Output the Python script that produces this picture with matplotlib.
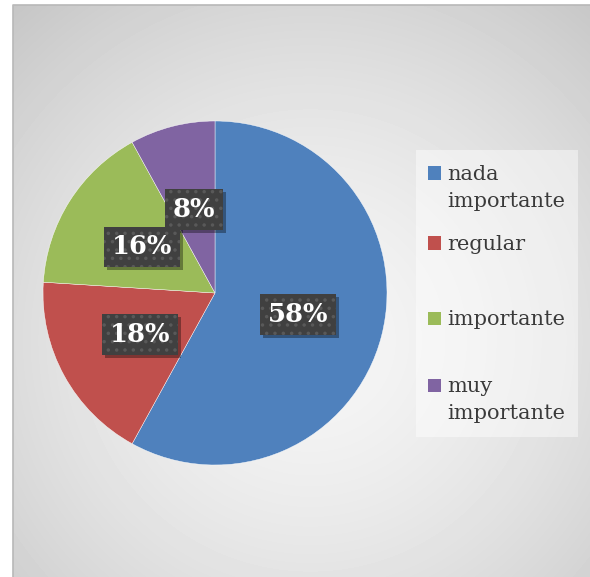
import numpy as np
import matplotlib
matplotlib.use("Agg")
import matplotlib.pyplot as plt
from matplotlib.patches import Rectangle
from matplotlib.transforms import IdentityTransform

categories = ["nada\nimportante", "regular", "importante", "muy\nimportante"]
values = [58, 18, 16, 8]
colors = ["#4f81bd", "#c0504d", "#9bbb59", "#8064a2"]

W, H = 590, 577
fig = plt.figure(figsize=(W / 100, H / 100), dpi=100, facecolor="white")


def fx(x):
    return x / W


def fy(y):
    return 1 - y / H


# chart area with soft radial gradient
left, top = 13, 5
bg = fig.add_axes([fx(left), 0, 1 - fx(left), fy(top)])
gw, gh = W - left, H - top
yy, xx = np.mgrid[0:gh, 0:gw]
cx, cy = 310 - left, 340 - top
d = np.hypot(xx - cx, yy - cy)
d = d / d.max()
shade = 0.965 - 0.19 * d ** 1.5
bg.imshow(shade, cmap="gray", vmin=0, vmax=1, aspect="auto",
          extent=(0, gw, gh, 0), interpolation="bilinear")
bg.set_xlim(0, gw)
bg.set_ylim(gh, 0)
bg.axis("off")
fig.add_artist(plt.Line2D([fx(left), fx(left), 1], [0, fy(top), fy(top)],
                          transform=fig.transFigure, color="#b8b8b8", lw=1.2))

# pie
cxp, cyp, r = 215, 293, 172
ax = fig.add_axes([fx(cxp - r), fy(cyp + r), 2 * r / W, 2 * r / H])
wedges, texts, autotexts = ax.pie(
    values, colors=colors, startangle=90, counterclock=False, radius=1,
    autopct=lambda p: f"{p:.0f}%", pctdistance=0.5,
    wedgeprops=dict(edgecolor="white", linewidth=0.3),
    textprops=dict(color="white", fontsize=18.5, fontweight="bold",
                   family="DejaVu Serif", zorder=5))
ax.set_xlim(-1, 1)
ax.set_ylim(-1, 1)
ax.set_aspect("equal")
ax.axis("off")

plt.rcParams["hatch.linewidth"] = 1.3
plt.rcParams["hatch.color"] = "#595959"
for t in autotexts:
    t.set_bbox(dict(boxstyle="square,pad=0.3", facecolor="#404040",
                    edgecolor="#595959", hatch="..", linewidth=0))

# drop shadow behind each label box
fig.canvas.draw()
for t in autotexts:
    ext = t.get_bbox_patch().get_window_extent()
    ax.add_patch(Rectangle((ext.x0 + 3, ext.y0 - 3), ext.width, ext.height,
                           transform=IdentityTransform(), facecolor="black",
                           alpha=0.35, edgecolor="none", zorder=4, clip_on=False))

# legend
fig.add_artist(Rectangle((fx(416), fy(437)), fx(578) - fx(416), fy(150) - fy(437),
                         transform=fig.transFigure, facecolor="white", alpha=0.45,
                         edgecolor="none"))
rows = [173, 243, 318, 385]
line_gap = 27
for label, color, y in zip(categories, colors, rows):
    fig.add_artist(Rectangle((fx(428), fy(y + 6.5)), 13 / W, 13 / H,
                             transform=fig.transFigure, facecolor=color,
                             edgecolor="none"))
    for j, line in enumerate(label.split("\n")):
        fig.text(fx(447), fy(y + 7 + j * line_gap), line, fontsize=15,
                 family="DejaVu Serif", color="#3a3a3a", va="baseline", ha="left")

fig.savefig("out.png", dpi=100, facecolor="white")
